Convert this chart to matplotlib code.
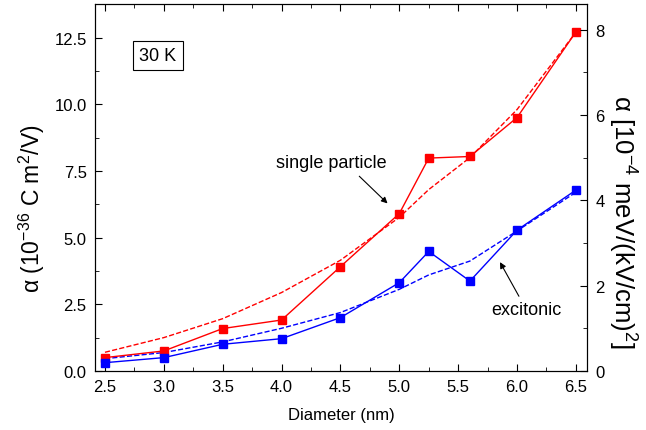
import matplotlib.pyplot as plt
from matplotlib.ticker import MultipleLocator

plt.rcParams['font.family'] = ['Liberation Sans', 'DejaVu Sans']
plt.rcParams['mathtext.fontset'] = 'custom'
plt.rcParams['mathtext.rm'] = 'Liberation Sans'
plt.rcParams['mathtext.it'] = 'Liberation Sans'

# диаметр (нм)
diam = [2.5, 3.0, 3.5, 4.0, 4.5, 5.0, 5.25, 5.6, 6.0, 6.5]
# одночастичная поляризуемость
single = [0.5, 0.75, 1.59, 1.91, 3.91, 5.9, 7.98, 8.04, 9.5, 12.71]
single_fit = [0.7, 1.25, 1.96, 2.94, 4.15, 5.76, 6.8, 8.0, 9.8, 12.7]
# экситонная поляризуемость
exc = [0.31, 0.5, 1.0, 1.21, 2.0, 3.31, 4.48, 3.37, 5.28, 6.78]
exc_fit = [0.46, 0.69, 1.09, 1.6, 2.19, 3.06, 3.6, 4.12, 5.25, 6.7]

fig = plt.figure(figsize=(6.46, 4.31), dpi=100)
ax = fig.add_axes([0.147, 0.137, 0.762, 0.851])

ax.plot(diam, single_fit, '--', color='#ff0000', lw=1)
ax.plot(diam, exc_fit, '--', color='#0000ff', lw=1)
ax.plot(diam, single, '-s', color='#ff0000', lw=1, ms=6)
ax.plot(diam, exc, '-s', color='#0000ff', lw=1, ms=6)

ax.set_xlim(2.415, 6.596)
ax.set_ylim(0, 13.75)
ax.xaxis.set_major_locator(MultipleLocator(0.5))
ax.xaxis.set_minor_locator(MultipleLocator(0.25))
ax.yaxis.set_major_locator(MultipleLocator(2.5))
ax.yaxis.set_minor_locator(MultipleLocator(1.25))
ax.xaxis.set_major_formatter(plt.FormatStrFormatter('%.1f'))
ax.yaxis.set_major_formatter(plt.FormatStrFormatter('%.1f'))
ax.tick_params(which='both', direction='in', top=True, labelsize=12, pad=6)
ax.tick_params(which='major', length=5)
ax.tick_params(which='minor', length=3)
ax.set_xlabel('Diameter (nm)', fontsize=12, labelpad=9)
ax.set_ylabel(r'$\alpha$ (10$^{-36}$ C m$^2$/V)', fontsize=16.5, labelpad=5)
ax.yaxis.label.set_y(0.444)

ax2 = ax.twinx()
ax2.set_ylim(0, 13.75 * 0.625)
ax2.yaxis.set_major_locator(MultipleLocator(2))
ax2.yaxis.set_minor_locator(MultipleLocator(1))
ax2.tick_params(which='both', direction='in', labelsize=12, pad=6)
ax2.tick_params(which='major', length=5)
ax2.tick_params(which='minor', length=3)
ax2.set_ylabel(r'$\alpha$ [10$^{-4}$ meV/(kV/cm)$^2$]', fontsize=18.5,
               rotation=270, labelpad=24)
ax2.yaxis.label.set_y(0.409)

ax.text(2.95, 11.83, '30 K', fontsize=13, ha='center', va='center',
        bbox=dict(boxstyle='square,pad=0.35', fc='white', ec='black', lw=0.8))

ax.text(4.42, 7.83, 'single particle', fontsize=13, ha='center', va='center')
ax.annotate('', xy=(4.90, 6.28), xytext=(4.66, 7.30),
            arrowprops=dict(arrowstyle='-|>', color='black', lw=0.8,
                            mutation_scale=9, shrinkA=0, shrinkB=0))
ax.text(6.08, 2.31, 'excitonic', fontsize=13, ha='center', va='center')
ax.annotate('', xy=(5.855, 4.08), xytext=(6.016, 2.80),
            arrowprops=dict(arrowstyle='-|>', color='black', lw=0.8,
                            mutation_scale=9, shrinkA=0, shrinkB=0))

fig.savefig('out.png', dpi=100)
